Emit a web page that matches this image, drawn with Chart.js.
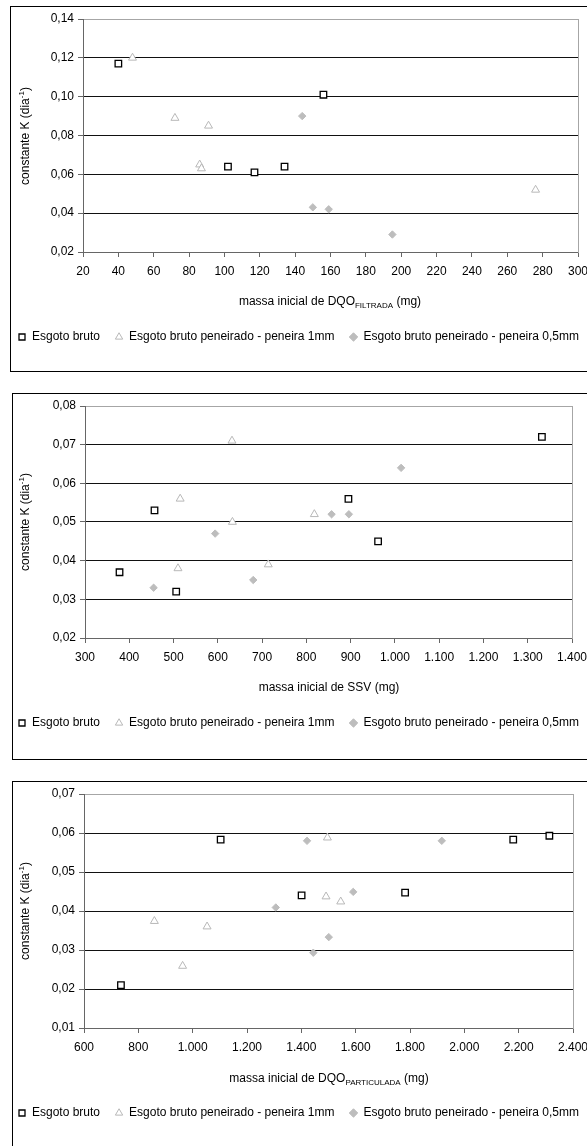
<!DOCTYPE html>
<html lang="pt-BR">
<head>
<meta charset="utf-8">
<title>Constante K x massa inicial</title>
<script src="https://cdn.jsdelivr.net/npm/chart.js@4.4.1/dist/chart.umd.min.js"></script>
<style>
    html, body { margin: 0; padding: 0; background: #fff; }
    body {
        position: relative;
        width: 587px;
        height: 1146px;
        overflow: hidden;
        font-family: "Liberation Sans", Arial, sans-serif;
        font-size: 12px;
        color: #000;
    }
    .panel { position: absolute; border: 1px solid #000; box-sizing: border-box; }
    canvas { position: absolute; left: 3px; }
    .y-title, .x-title { position: absolute; white-space: nowrap; line-height: 14px; }
    .y-title { transform: translate(-50%, -50%) rotate(-90deg); }
    .x-title { transform: translate(-50%, -50%); }
    sup, sub { font-size: 8px; line-height: 0; }
</style>
</head>
<body>

<div class="panel" style="left:10px; top:6px; width:600px; height:366px;"></div>
<div class="panel" style="left:12px; top:393px; width:600px; height:367px;"></div>
<div class="panel" style="left:12px; top:781px; width:600px; height:400px;"></div>

<canvas id="c1" width="620" height="363" style="top:7px"></canvas>
<canvas id="c2" width="620" height="364" style="top:394px"></canvas>
<canvas id="c3" width="620" height="364" style="top:782px"></canvas>

<div class="y-title" style="left:25px; top:136px">constante K (dia<sup>-1</sup>)</div>
<div class="y-title" style="left:25px; top:522px">constante K (dia<sup>-1</sup>)</div>
<div class="y-title" style="left:25px; top:911px">constante K (dia<sup>-1</sup>)</div>

<div class="x-title" style="left:330px; top:301px">massa inicial de DQO<sub>FILTRADA</sub> (mg)</div>
<div class="x-title" style="left:329px; top:687px">massa inicial de SSV (mg)</div>
<div class="x-title" style="left:329px; top:1078px">massa inicial de DQO<sub>PARTICULADA</sub> (mg)</div>

<script>
// Series labels
const seriesNames = [
    'Esgoto bruto',
    'Esgoto bruto peneirado - peneira 1mm',
    'Esgoto bruto peneirado - peneira 0,5mm'
];

// Chart 1: massa inicial de DQO filtrada (mg)
const xTicks1 = [20, 40, 60, 80, 100, 120, 140, 160, 180, 200, 220, 240, 260, 280, 300];
const yTicks1 = [0.02, 0.04, 0.06, 0.08, 0.10, 0.12, 0.14];
const brutoX1 = [40, 102, 117, 134, 156];
const brutoY1 = [0.117, 0.064, 0.061, 0.064, 0.101];
const pen1mmX1 = [48, 72, 91, 86, 87, 276];
const pen1mmY1 = [0.120, 0.089, 0.085, 0.065, 0.063, 0.052];
const pen05X1 = [144, 150, 159, 195];
const pen05Y1 = [0.090, 0.043, 0.042, 0.029];

// Chart 2: massa inicial de SSV (mg)
const xTicks2 = [300, 400, 500, 600, 700, 800, 900, 1000, 1100, 1200, 1300, 1400];
const yTicks2 = [0.02, 0.03, 0.04, 0.05, 0.06, 0.07, 0.08];
const brutoX2 = [378, 457, 506, 895, 962, 1332];
const brutoY2 = [0.037, 0.053, 0.032, 0.056, 0.045, 0.072];
const pen1mmX2 = [632, 515, 633, 510, 714, 818];
const pen1mmY2 = [0.071, 0.056, 0.050, 0.038, 0.039, 0.052];
const pen05X2 = [455, 594, 680, 1014, 857, 896];
const pen05Y2 = [0.033, 0.047, 0.035, 0.064, 0.052, 0.052];

// Chart 3: massa inicial de DQO particulada (mg)
const xTicks3 = [600, 800, 1000, 1200, 1400, 1600, 1800, 2000, 2200, 2400];
const yTicks3 = [0.01, 0.02, 0.03, 0.04, 0.05, 0.06, 0.07];
const brutoX3 = [736, 1103, 1401, 1782, 2180, 2313];
const brutoY3 = [0.021, 0.0583, 0.044, 0.0447, 0.0583, 0.0593];
const pen1mmX3 = [859, 963, 1053, 1496, 1491, 1545];
const pen1mmY3 = [0.0374, 0.0259, 0.036, 0.0588, 0.0437, 0.0424];
const pen05X3 = [1306, 1421, 1917, 1591, 1501, 1444];
const pen05Y3 = [0.0409, 0.058, 0.058, 0.0449, 0.0333, 0.0293];

Chart.defaults.font.family = '"Liberation Sans", Arial, sans-serif';
Chart.defaults.font.size = 12;
Chart.defaults.color = '#000';

const GRID = '#111';
const AXIS = '#666';
const FRAME = '#a6a6a6';
const LEGEND_PAD = 15;

/**
 * Zip x and y arrays into scatter points
 */
function toPoints(xs, ys) {
    return xs.map((x, i) => ({ x, y: ys[i] }));
}

/**
 * 1.000 style thousands separator, 0,05 style decimals
 */
function fmtX(v) {
    return String(v).replace(/\B(?=(\d{3})+(?!\d))/g, '.');
}
function fmtY(v) {
    return v.toFixed(2).replace('.', ',');
}

function buildDatasets(bx, by, tx, ty, dx, dy) {
    return [
        {
            label: seriesNames[0],
            data: toPoints(bx, by),
            pointStyle: 'rect',
            pointRadius: 4.6,
            backgroundColor: '#fff',
            borderColor: '#000',
            borderWidth: 1.3
        },
        {
            label: seriesNames[1],
            data: toPoints(tx, ty),
            pointStyle: 'triangle',
            pointRadius: 4.6,
            backgroundColor: '#fff',
            borderColor: '#b8b8b8',
            borderWidth: 1
        },
        {
            label: seriesNames[2],
            data: toPoints(dx, dy),
            pointStyle: 'rectRot',
            pointRadius: 3.7,
            backgroundColor: '#bdbdbd',
            borderColor: '#bdbdbd',
            borderWidth: 1
        }
    ];
}

/**
 * Create one scatter panel
 */
function createPanel(id, opts) {
    const { xTicks, yTicks, datasets, padTop, padBottom, yWidth, y2Width } = opts;
    const yMin = yTicks[0];
    const yMax = yTicks[yTicks.length - 1];

    return new Chart(document.getElementById(id), {
        type: 'scatter',
        data: { datasets },
        options: {
            responsive: false,
            animation: false,
            layout: { padding: { top: padTop, bottom: padBottom, left: 0, right: 0 } },
            plugins: {
                tooltip: { enabled: false },
                legend: {
                    position: 'bottom',
                    align: 'start',
                    labels: {
                        usePointStyle: true,
                        boxWidth: 8,
                        boxHeight: 6,
                        padding: LEGEND_PAD,
                        color: '#000'
                    }
                }
            },
            scales: {
                x: {
                    type: 'linear',
                    min: xTicks[0],
                    max: xTicks[xTicks.length - 1],
                    afterBuildTicks: s => { s.ticks = xTicks.map(v => ({ value: v })); },
                    // keep legend text ~85px under the axis
                    afterFit: s => { s.height = 79 - LEGEND_PAD; },
                    grid: { drawOnChartArea: false, tickLength: 5, tickColor: AXIS },
                    border: { color: AXIS },
                    ticks: { padding: 7, maxRotation: 0, callback: v => fmtX(v), color: '#000' }
                },
                y: {
                    min: yMin,
                    max: yMax,
                    afterBuildTicks: s => { s.ticks = yTicks.map(v => ({ value: v })); },
                    afterFit: s => { s.width = yWidth; },
                    grid: {
                        tickLength: 5,
                        tickColor: AXIS,
                        color: c => {
                            if (Math.abs(c.tick.value - yMax) < 1e-9) return FRAME;
                            if (Math.abs(c.tick.value - yMin) < 1e-9) return AXIS;
                            return GRID;
                        }
                    },
                    border: { color: AXIS },
                    ticks: { padding: 4, callback: v => fmtY(v), color: '#000' }
                },
                y2: {
                    position: 'right',
                    min: yMin,
                    max: yMax,
                    afterFit: s => { s.width = y2Width; },
                    grid: { display: false, drawTicks: false },
                    border: { color: FRAME },
                    ticks: { display: false }
                }
            }
        }
    });
}

createPanel('c1', {
    xTicks: xTicks1, yTicks: yTicks1,
    datasets: buildDatasets(brutoX1, brutoY1, pen1mmX1, pen1mmY1, pen05X1, pen05Y1),
    padTop: 12, padBottom: 17, yWidth: 80, y2Width: 45
});

createPanel('c2', {
    xTicks: xTicks2, yTicks: yTicks2,
    datasets: buildDatasets(brutoX2, brutoY2, pen1mmX2, pen1mmY2, pen05X2, pen05Y2),
    padTop: 12, padBottom: 19, yWidth: 82, y2Width: 51
});

createPanel('c3', {
    xTicks: xTicks3, yTicks: yTicks3,
    datasets: buildDatasets(brutoX3, brutoY3, pen1mmX3, pen1mmY3, pen05X3, pen05Y3),
    padTop: 12, padBottom: 17, yWidth: 81, y2Width: 50
});
</script>
</body>
</html>
